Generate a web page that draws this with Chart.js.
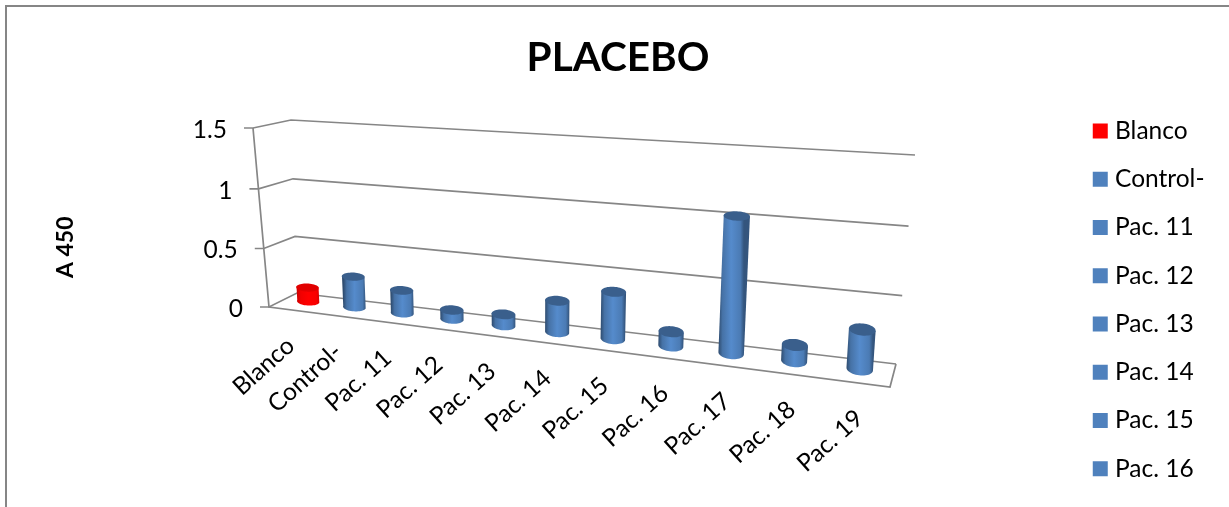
<!DOCTYPE html>
<html>
<head>
<meta charset="utf-8">
<title>PLACEBO</title>
<script src="https://cdn.jsdelivr.net/npm/chart.js@4"></script>
<style>
  html, body { margin: 0; padding: 0; background: #fff; overflow: hidden; }
  canvas { display: block; }
</style>
</head>
<body>
<canvas id="placebo-chart" width="1229" height="507"></canvas>
<script>
var categories = ["Blanco", "Control-", "Pac. 11", "Pac. 12", "Pac. 13", "Pac. 14", "Pac. 15", "Pac. 16", "Pac. 17", "Pac. 18", "Pac. 19"];
var absorbance = [0.12, 0.26, 0.19, 0.075, 0.09, 0.25, 0.37, 0.11, 1.03, 0.12, 0.29];
var barColors = ["#FF0000", "#4F81BD", "#4F81BD", "#4F81BD", "#4F81BD", "#4F81BD", "#4F81BD", "#4F81BD", "#4F81BD", "#4F81BD", "#4F81BD"];
var legendCount = 8;

var FONT = "Lato, 'Open Sans', sans-serif";
var LINE = "#868686";

// Box corners of the 3D plot on the page
var box = {
  flb: [269, 307], frb: [890, 387], flt: [253, 128], frt: [899, 172],
  blb: [297, 293], brb: [896, 364], blt: [291, 120], brt: [915, 155],
};
var PERSP_X = 1.24;
var PERSP_Y = 1.03;
var BAR_DEPTH = 0.6;
var RING_DEPTH = 0.28;

function persp(u, a) {
  return u / (a - (a - 1) * u);
}
function mix(p, q, k) {
  return [p[0] + (q[0] - p[0]) * k, p[1] + (q[1] - p[1]) * k];
}
// t along the categories, w up the value axis, d from front to back
function project(t, w, d) {
  var front = mix(mix(box.flb, box.frb, t), mix(box.flt, box.frt, t), w);
  var back = mix(mix(box.blb, box.brb, t), mix(box.blt, box.brt, t), w);
  return mix(front, back, d);
}
// Darken a colour by f; strength softens the effect for the bright red bar
function shade(hex, f) {
  var n = parseInt(hex.slice(1), 16);
  var strength = hex == "#FF0000" ? 0.45 : 1;
  var k = f > 1 ? f : 1 - (1 - f) * strength;
  var r = Math.min(255, Math.round((n >> 16) * k));
  var g = Math.min(255, Math.round(((n >> 8) & 255) * k));
  var b = Math.min(255, Math.round((n & 255) * k));
  return "rgb(" + r + "," + g + "," + b + ")";
}

function ringPoints(t, w, halfT) {
  var c = project(t, w, BAR_DEPTH);
  var a0 = project(t - halfT, w, BAR_DEPTH);
  var a1 = project(t + halfT, w, BAR_DEPTH);
  var axisX = [(a1[0] - a0[0]) / 2, (a1[1] - a0[1]) / 2];
  var d0 = project(t, w, BAR_DEPTH - RING_DEPTH);
  var d1 = project(t, w, BAR_DEPTH + RING_DEPTH);
  var axisY = [(d1[0] - d0[0]) * 0.15, (d1[1] - d0[1]) / 2];
  var pts = [];
  for (var i = 0; i < 48; i++) {
    var th = (i / 48) * Math.PI * 2;
    pts.push([
      c[0] + Math.cos(th) * axisX[0] + Math.sin(th) * axisY[0],
      c[1] + Math.cos(th) * axisX[1] + Math.sin(th) * axisY[1],
    ]);
  }
  return pts;
}

function drawRing(ctx, pts) {
  ctx.beginPath();
  pts.forEach(function (p, i) {
    if (i == 0) ctx.moveTo(p[0], p[1]);
    else ctx.lineTo(p[0], p[1]);
  });
  ctx.closePath();
}

function drawCylinder(ctx, bar, area, color) {
  var t = persp((bar.x - area.left) / area.width, PERSP_X);
  var w = persp((bar.base - bar.y) / area.height, PERSP_Y);
  var halfT = (bar.width / 2 / area.width) * (0.9 + 0.2 * t);
  var bottom = ringPoints(t, 0, halfT);
  var top = ringPoints(t, w, halfT);

  // samples 0 and 24 are the right and left sides of each ring,
  // 25..47 the half of the bottom ring facing the viewer
  ctx.beginPath();
  ctx.moveTo(top[24][0], top[24][1]);
  ctx.lineTo(bottom[24][0], bottom[24][1]);
  for (var i = 25; i < 48; i++) {
    ctx.lineTo(bottom[i][0], bottom[i][1]);
  }
  ctx.lineTo(bottom[0][0], bottom[0][1]);
  ctx.lineTo(top[0][0], top[0][1]);
  ctx.closePath();
  var g = ctx.createLinearGradient(bottom[24][0], 0, bottom[0][0], 0);
  g.addColorStop(0, shade(color, 0.58));
  g.addColorStop(0.16, shade(color, 0.88));
  g.addColorStop(0.5, shade(color, 1.08));
  g.addColorStop(0.86, shade(color, 0.95));
  g.addColorStop(1, shade(color, 0.66));
  ctx.fillStyle = g;
  ctx.fill();

  drawRing(ctx, top);
  ctx.fillStyle = shade(color, 0.74);
  ctx.fill();
}

function strokeLine(ctx, pts) {
  ctx.beginPath();
  pts.forEach(function (p, i) {
    if (i == 0) ctx.moveTo(p[0], p[1]);
    else ctx.lineTo(p[0], p[1]);
  });
  ctx.stroke();
}

var plot3d = {
  id: "plot3d",
  beforeDraw: function (chart) {
    var ctx = chart.ctx;
    ctx.save();
    ctx.strokeStyle = LINE;
    ctx.lineWidth = 2;
    strokeLine(ctx, [[6, 507], [6, 6], [1229, 6]]);
    ctx.restore();
  },
  beforeDatasetsDraw: function (chart) {
    var ctx = chart.ctx;
    var yScale = chart.scales.y;
    var xScale = chart.scales.x;
    var area = chart.chartArea;
    ctx.save();
    ctx.strokeStyle = LINE;
    ctx.lineWidth = 1.7;

    // floor outline and value axis edge
    strokeLine(ctx, [project(0, 1, 0), project(0, 0, 0), project(1, 0, 0), project(1, 0, 1)]);

    // gridlines run across the side wall and the back wall
    ctx.fillStyle = "#000";
    ctx.font = "24.5px " + FONT;
    ctx.textAlign = "right";
    ctx.textBaseline = "middle";
    yScale.ticks.forEach(function (tick) {
      var w = persp((area.bottom - yScale.getPixelForValue(tick.value)) / area.height, PERSP_Y);
      var edge = project(0, w, 0);
      strokeLine(ctx, [[edge[0] - 9, edge[1]], edge, project(0, w, 1), project(1, w, 1)]);
      ctx.fillText(String(tick.value), edge[0] - 26, edge[1] + 2);
    });

    // rotated category labels below the front edge
    xScale.getLabels().forEach(function (label, i) {
      var t = persp((xScale.getPixelForValue(i) - area.left) / area.width, PERSP_X);
      var p = project(t, 0, 0);
      ctx.save();
      ctx.translate(p[0] - 1.5 + 6 * t, p[1] + 32);
      ctx.rotate((-42 * Math.PI) / 180);
      ctx.fillText(label, 0, 0);
      ctx.restore();
    });
    ctx.restore();
  },
  beforeDatasetDraw: function (chart, args) {
    var ctx = chart.ctx;
    var area = chart.chartArea;
    ctx.save();
    args.meta.data.forEach(function (bar, i) {
      drawCylinder(ctx, bar, area, barColors[i]);
    });
    ctx.restore();
    return false;
  },
};

var ctx = document.getElementById("placebo-chart").getContext("2d");
var placebo_chart = new Chart(ctx, {
  type: "bar",
  data: {
    labels: categories,
    datasets: [
      {
        label: "A 450",
        data: absorbance,
        backgroundColor: barColors,
        categoryPercentage: 1,
        barPercentage: 0.44,
      },
    ],
  },
  plugins: [plot3d],
  options: {
    responsive: false,
    animation: false,
    layout: { padding: { left: 21.5, right: 14.5 } },
    scales: {
      x: {
        ticks: { display: false },
        grid: { display: false },
        border: { display: false },
        afterFit: function (scale) {
          scale.height = 113;
        },
      },
      y: {
        min: 0,
        max: 1.5,
        ticks: { stepSize: 0.5, display: false },
        grid: { display: false },
        border: { display: false },
        title: {
          display: true,
          text: "A 450",
          color: "#000",
          font: { family: FONT, size: 23, weight: "bold" },
          padding: { top: 30.5, bottom: 4 },
        },
      },
    },
    plugins: {
      tooltip: { enabled: false },
      title: {
        display: true,
        text: "PLACEBO",
        color: "#000",
        font: { family: FONT, size: 40.5, weight: "bold" },
        padding: { top: 34, bottom: 18 },
      },
      legend: {
        position: "right",
        align: "start",
        onClick: null,
        title: { display: true, text: " ", padding: { top: 80.5, bottom: 0 } },
        labels: {
          color: "#000",
          font: { family: FONT, size: 24.5 },
          usePointStyle: true,
          boxWidth: 5,
          boxHeight: 15,
          padding: 23.75,
          generateLabels: function () {
            return categories.slice(0, legendCount).map(function (text, i) {
              return { text: text, fillStyle: barColors[i], strokeStyle: barColors[i], fontColor: "#000", lineWidth: 0, pointStyle: "rect", index: i };
            });
          },
        },
      },
    },
  },
});
</script>
</body>
</html>
